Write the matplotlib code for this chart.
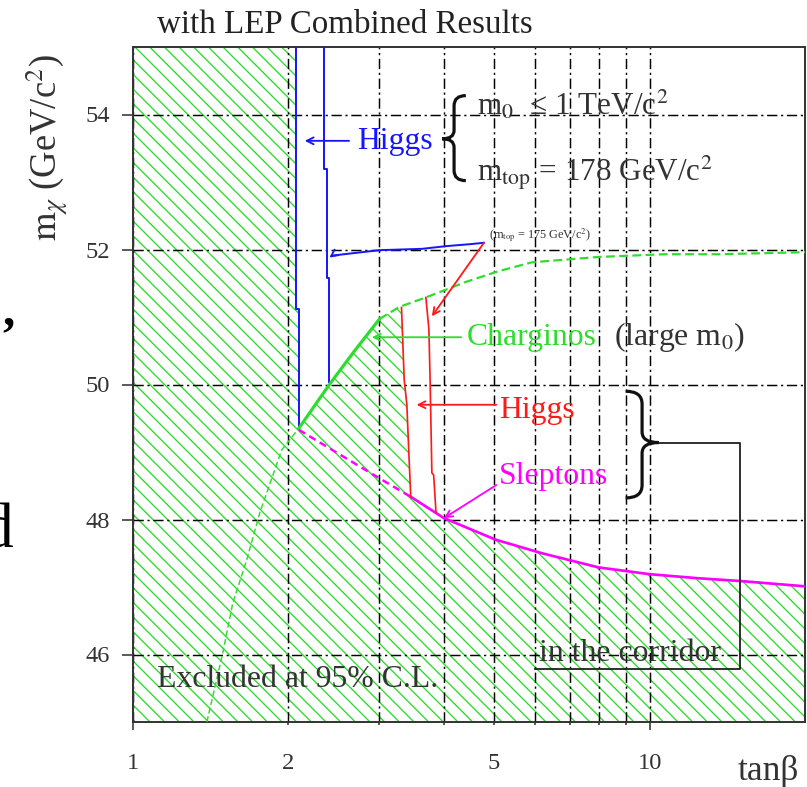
import numpy as np
import matplotlib.pyplot as plt
from matplotlib.path import Path
from matplotlib.patches import PathPatch

plt.rcParams['font.family'] = ['Liberation Serif', 'DejaVu Serif']
plt.rcParams['mathtext.fontset'] = 'stix'
plt.rcParams['hatch.linewidth'] = 1.1

GREEN = '#2edc2e'
BLUE = '#1515ff'
RED = '#ff1a1a'
MAGENTA = '#ff00ff'
GREY = '#333333'

# --- curves (tan(beta), m_chi in GeV/c^2) ---
# Higgs (m_top = 178), boundary of the excluded region at low tan(beta)
higgs1_tb = [2.07, 2.07, 2.094, 2.094]
higgs1_m = [55.0, 51.12, 51.12, 49.35]

# Higgs (m_top = 175)
higgs2_tb = [2.348, 2.348, 2.378, 2.378, 2.40, 2.40]
higgs2_m = [55.0, 53.20, 53.20, 51.58, 51.58, 50.03]

# charginos, solid part of the limit
charg_tb = [2.094, 2.40, 2.68, 3.00]
charg_m = [49.35, 50.00, 50.49, 50.97]

# charginos (large m0), dashed
charg_large_tb = [3.00, 3.28, 3.69, 4.41, 5.11, 5.92, 7.97, 10.7, 13.6, 20.0]
charg_large_m = [50.97, 51.15, 51.29, 51.52, 51.68, 51.81, 51.89, 51.93, 51.93, 51.96]

# thin dashed green line at low tan(beta)
charg_low_tb = [1.39, 1.49, 1.56, 1.66, 1.76, 1.94, 2.094]
charg_low_m = [45.0, 46.0, 46.76, 47.4, 48.1, 49.03, 49.35]

# sleptons
slep_dash_tb = [2.094, 2.20, 2.97, 3.46]
slep_dash_m = [49.33, 49.23, 48.63, 48.33]
slep_tb = [3.46, 4.0, 5.04, 6.19, 7.97, 10.0, 12.4, 14.9, 20.0]
slep_m = [48.33, 48.02, 47.70, 47.50, 47.29, 47.19, 47.13, 47.09, 47.01]

# Higgs in the corridor (red)
hred1_tb = [3.31, 3.35, 3.39, 3.42, 3.45]
hred1_m = [51.14, 50.07, 49.70, 48.99, 48.33]
hred2_tb = [3.69, 3.74, 3.76, 3.79, 3.82, 3.86]
hred2_m = [51.29, 50.82, 50.07, 48.69, 48.66, 48.11]

# pointer line for the m_top = 175 label
ptr_tb = [4.78, 4.51, 4.04, 3.63, 3.00, 2.43]
ptr_m = [52.10, 52.08, 52.05, 52.01, 51.99, 51.91]

xticks_major = [1, 10]
xticks_minor = [2, 3, 4, 5, 6, 7, 8, 9]
xminor_labels = ['2', '', '', '5', '', '', '', '']
yticks = [46, 48, 50, 52, 54]

dpi = 88
fig = plt.figure(figsize=(807 / dpi, 787 / dpi), dpi=dpi)
ax = fig.add_axes([133 / 807, 1 - 722 / 787, 672 / 807, 675 / 787])
ax.set_xscale('log')
ax.set_xlim(1, 20)
ax.set_ylim(45, 55)

# excluded (hatched) region
ex_tb = ([1, 1] + higgs1_tb + charg_tb[1:] + charg_large_tb[1:2]
         + hred1_tb + slep_tb[1:] + [20])
ex_m = ([45, 55] + higgs1_m + charg_m[1:] + charg_large_m[1:2]
        + hred1_m + slep_m[1:] + [45])
ax.fill(ex_tb, ex_m, facecolor='none', edgecolor=GREEN, hatch='\\\\', linewidth=0, zorder=1)

ax.plot(higgs1_tb, higgs1_m, color=BLUE, lw=1.6, zorder=3)
ax.plot(higgs2_tb, higgs2_m, color=BLUE, lw=1.6, zorder=3)
ax.plot(charg_tb, charg_m, color=GREEN, lw=2.6, zorder=3)
ax.plot(charg_large_tb, charg_large_m, color=GREEN, lw=1.8, ls=(0, (4, 2)), zorder=3)
ax.plot(charg_low_tb, charg_low_m, color=GREEN, lw=1.2, ls=(0, (4, 2)), zorder=3)
ax.plot(slep_dash_tb, slep_dash_m, color=MAGENTA, lw=2.0, ls=(0, (3, 2)), zorder=3)
ax.plot(slep_tb, slep_m, color=MAGENTA, lw=2.2, zorder=3)
ax.plot(hred1_tb, hred1_m, color=RED, lw=1.4, zorder=3)
ax.plot(hred2_tb, hred2_m, color=RED, lw=1.4, zorder=3)
ax.plot(ptr_tb, ptr_m, color=BLUE, lw=1.6, zorder=3)

arrow = dict(arrowstyle='->', lw=1.5, mutation_scale=14, shrinkA=0, shrinkB=0)
ax.annotate('', xy=(2.40, 51.88), xytext=(ptr_tb[-1], ptr_m[-1]),
            arrowprops=dict(arrow, color=BLUE))
ax.annotate('', xy=(3.79, 51.01), xytext=(4.78, 52.10),
            arrowprops=dict(arrow, color=RED))
ax.annotate('', xy=(2.15, 53.61), xytext=(2.62, 53.61),
            arrowprops=dict(arrow, color=BLUE))
ax.annotate('', xy=(2.90, 50.70), xytext=(4.32, 50.70),
            arrowprops=dict(arrow, color=GREEN))
ax.annotate('', xy=(3.54, 49.70), xytext=(5.05, 49.70),
            arrowprops=dict(arrow, color=RED))
ax.annotate('', xy=(4.0, 48.02), xytext=(5.05, 48.51),
            arrowprops=dict(arrow, color=MAGENTA))

# labels
fs = 26
ax.text(2.71, 53.49, 'Higgs', color=BLUE, fontsize=fs, va='baseline', zorder=4)
ax.text(4.43, 50.59, 'Charginos', color=GREEN, fontsize=fs, va='baseline', zorder=4)
ax.text(8.54, 50.59, '(large m$_0$)', color=GREY, fontsize=fs, va='baseline', zorder=4)
ax.text(5.11, 49.51, 'Higgs', color=RED, fontsize=fs, va='baseline', zorder=4)
ax.text(5.11, 48.53, 'Sleptons', color=MAGENTA, fontsize=fs, va='baseline', zorder=4)
ax.text(1.113, 45.52, 'Excluded at 95% C.L.', color=GREY, fontsize=fs, va='baseline', zorder=4)
ax.text(6.10, 45.91, 'in the corridor', color=GREY, fontsize=fs, va='baseline', zorder=4)
ax.text(4.63, 54.0, 'm$_0$  ≤ 1 TeV/c$^2$', color=GREY, fontsize=25.5, va='baseline', zorder=4)
ax.text(4.63, 53.02, 'm$_{\\mathrm{top}}$ = 178 GeV/c$^2$', color=GREY, fontsize=25.5,
        va='baseline', zorder=4)
ax.text(4.89, 52.16, '(m$_{\\mathrm{top}}$ = 175 GeV/c$^2$)', color=GREY, fontsize=10,
        va='baseline', zorder=4)

# box for the corridor
ax.plot([10.41, 15.0, 15.0, 6.0], [49.14, 49.14, 45.79, 45.79], color='#222222', lw=1.5, zorder=3)


def brace(x_end, x_tip, y_top, y_bot, y_tip):
    fig.canvas.draw()
    t = ax.transData
    (xe, yt), = t.transform([(x_end, y_top)])
    (xt, yb), = t.transform([(x_tip, y_bot)])
    (_, yc), = t.transform([(x_tip, y_tip)])
    xm = (xe + xt) / 2
    h = abs(yt - yb)
    s = 1 if yt > yb else -1
    verts = [(xe, yt), (xm, yt), (xm, yt - s * 0.12 * h),
             (xm, yc + s * 0.1 * h),
             (xm, yc), (xt, yc),
             (xm, yc), (xm, yc - s * 0.1 * h),
             (xm, yb + s * 0.12 * h),
             (xm, yb), (xe, yb)]
    codes = [Path.MOVETO, Path.CURVE3, Path.CURVE3, Path.LINETO,
             Path.CURVE3, Path.CURVE3, Path.CURVE3, Path.CURVE3,
             Path.LINETO, Path.CURVE3, Path.CURVE3]
    p = PathPatch(Path(verts, codes), transform=None, facecolor='none',
                  edgecolor='#111111', lw=2.6, zorder=4, clip_on=False)
    fig.add_artist(p)


# ticks and grid
ax.set_xticks(xticks_major, [str(v) for v in xticks_major])
ax.set_xticks(xticks_minor, xminor_labels, minor=True)
ax.set_yticks(yticks, [str(v) for v in yticks])
ax.yaxis.set_minor_locator(plt.NullLocator())
ax.tick_params(axis='x', which='major', direction='out', length=6.5, width=1.3,
               pad=19, labelsize=20, colors=GREY)
ax.tick_params(axis='x', which='minor', direction='out', length=2.5, width=1.3,
               pad=23, labelsize=20, colors=GREY)
ax.tick_params(axis='y', direction='out', length=9, width=1.3, pad=10,
               labelsize=20, colors=GREY)
ax.grid(True, which='both', axis='x', color='black', lw=1.2, ls=(0, (7, 2.5, 1.5, 2.5)))
ax.grid(True, which='major', axis='y', color='black', lw=1.2, ls=(0, (7, 2.5, 1.5, 2.5)))
for sp in ax.spines.values():
    sp.set_color('#333333')
    sp.set_linewidth(1.6)

brace(8.99, 10.41, 49.90, 48.32, 49.14)
brace(4.41, 3.97, 54.28, 53.02, 53.64)

fig.text(345 / 807, 1 - 33 / 787, 'with LEP Combined Results', ha='center',
         va='baseline', fontsize=27, color='#222222')
fig.text(768 / 807, 1 - 772 / 787, 'tanβ', ha='center', va='center', fontsize=29, color=GREY)
fig.text(48 / 807, 1 - 148 / 787, '$\\mathrm{m}_{\\chi}$ (GeV/c$^2$)', rotation=90,
         ha='center', va='center', fontsize=30, color=GREY)
# fragments of the slide text on the left
fig.text(2 / 807, 1 - 324 / 787, ',', ha='left', va='baseline', fontsize=40, color='black',
         fontweight='bold')
fig.text(13 / 807, 1 - 547 / 787, 'd', ha='right', va='baseline', fontsize=52, color='black')

fig.savefig('out.png', dpi=dpi)
